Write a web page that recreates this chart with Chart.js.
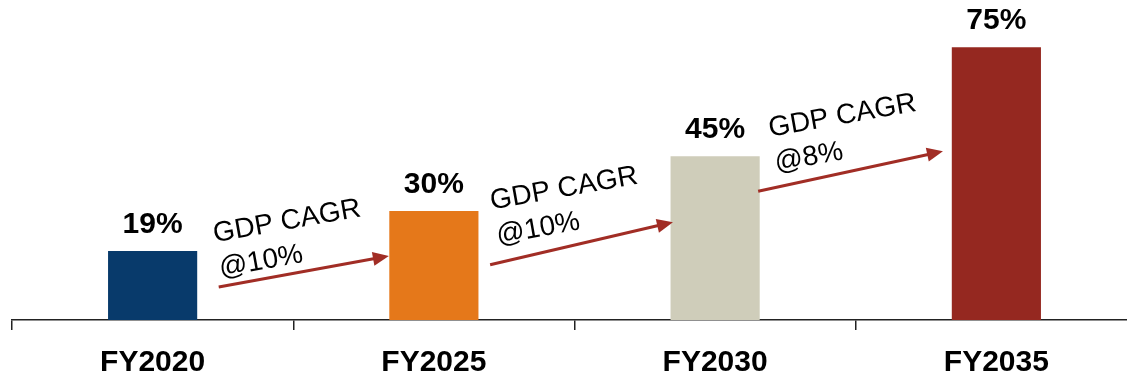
<!DOCTYPE html>
<html>
<head>
<meta charset="utf-8">
<script src="https://cdn.jsdelivr.net/npm/chart.js@4"></script>
<style>
  html, body { margin: 0; padding: 0; background: #fff; overflow: hidden; }
  #wrap { width: 1137px; height: 382px; }
</style>
</head>
<body>
<div id="wrap"><canvas id="grafico"></canvas></div>
<script>
// dados do grafico
const anos = ["FY2020", "FY2025", "FY2030", "FY2035"];
const valores = [19, 30, 45, 75];
const coresBarras = ["#083a6b", "#e5781a", "#cfcdba", "#952820"];

// setas entre barras (x em indice de categoria, y em %)
const setaInicioX = [0.235, 1.2, 2.153];
const setaInicioY = [9.1, 15.2, 35.4];
const setaFimX = [0.84, 1.85, 2.81];
const setaFimY = [17.6, 26.9, 46.4];

// textos de crescimento
const cagrTitulo = ["GDP CAGR", "GDP CAGR", "GDP CAGR"];
const cagrTaxa = ["@10%", "@10%", "@8%"];
const cagrX = [0.221, 1.206, 2.196];
const cagrY = [21.4, 30.4, 50.4];

const FONTE = "'Liberation Sans', Arial, sans-serif";
const COR_SETA = "#a12d25";

/**
 * desenha rotulos de valor, setas e textos de cagr
 */
const anotacoes = {
    id: "anotacoes",
    afterDatasetsDraw(chart) {
        const ctx = chart.ctx;
        const xs = chart.scales.x;
        const ys = chart.scales.y;
        ctx.save();

        // rotulos acima das barras
        ctx.font = "bold 30px " + FONTE;
        ctx.textAlign = "center";
        ctx.textBaseline = "alphabetic";
        ctx.fillStyle = "#000";
        chart.getDatasetMeta(0).data.forEach((barra, i) => {
            ctx.fillText(valores[i] + "%", barra.x, barra.y - 18);
        });

        setaInicioX.forEach((_, i) => {
            const x0 = xs.getPixelForValue(setaInicioX[i]);
            const y0 = ys.getPixelForValue(setaInicioY[i]);
            const x1 = xs.getPixelForValue(setaFimX[i]);
            const y1 = ys.getPixelForValue(setaFimY[i]);
            const ang = Math.atan2(y1 - y0, x1 - x0);
            const ponta = 16;

            ctx.strokeStyle = COR_SETA;
            ctx.lineWidth = 3;
            ctx.beginPath();
            ctx.moveTo(x0, y0);
            ctx.lineTo(x1 - ponta * 0.8 * Math.cos(ang), y1 - ponta * 0.8 * Math.sin(ang));
            ctx.stroke();

            ctx.save();
            ctx.translate(x1, y1);
            ctx.rotate(ang);
            ctx.beginPath();
            ctx.moveTo(0, 0);
            ctx.lineTo(-ponta, -7);
            ctx.lineTo(-ponta, 7);
            ctx.closePath();
            ctx.fillStyle = COR_SETA;
            ctx.fill();
            ctx.restore();

            // texto inclinado
            ctx.save();
            ctx.translate(xs.getPixelForValue(cagrX[i]), ys.getPixelForValue(cagrY[i]));
            ctx.rotate(-10 * Math.PI / 180);
            ctx.font = "28px " + FONTE;
            ctx.textAlign = "left";
            ctx.fillStyle = "#000";
            ctx.fillText(cagrTitulo[i], 0, 0);
            ctx.fillText(cagrTaxa[i], 0, 35);
            ctx.restore();
        });

        ctx.restore();
    },
};

new Chart(document.getElementById("grafico").getContext("2d"), {
    type: "bar",
    data: {
        labels: anos,
        datasets: [{
            data: valores,
            backgroundColor: coresBarras,
            borderWidth: 0,
            barPercentage: 0.317,
            categoryPercentage: 1,
        }],
    },
    options: {
        responsive: true,
        maintainAspectRatio: false,
        animation: false,
        layout: { padding: { left: 12, right: 0, top: 0, bottom: -14 } },
        plugins: { legend: { display: false }, tooltip: { enabled: false } },
        scales: {
            x: {
                grid: { offset: true, drawOnChartArea: false, drawTicks: true, tickLength: 10, color: "#222", lineWidth: 1.5 },
                border: { color: "#222", width: 1.5 },
                ticks: { color: "#000", padding: 15, font: { family: FONTE, size: 30, weight: "bold" } },
            },
            y: { display: false, min: 0, max: 88 },
        },
    },
    plugins: [anotacoes],
});
</script>
</body>
</html>
